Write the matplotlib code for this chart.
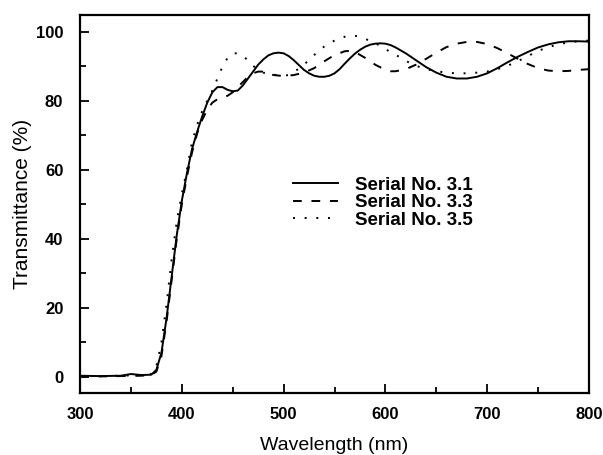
import matplotlib.pyplot as plt
from matplotlib.ticker import MultipleLocator

plt.rcParams["font.family"] = ["Liberation Sans", "DejaVu Sans"]

wavelength_31 = [300, 320, 340, 350, 360, 370, 375, 380, 385, 390, 395, 400, 405, 410,
                 415, 420, 425, 430, 435, 440, 445, 450, 455, 460, 465, 470, 475, 480,
                 485, 490, 495, 500, 505, 510, 515, 520, 525, 530, 535, 540, 545, 550,
                 555, 560, 565, 570, 575, 580, 585, 590, 595, 600, 605, 610, 620, 630,
                 640, 650, 660, 670, 680, 690, 700, 710, 720, 730, 740, 750, 760, 770,
                 780, 790, 800]
trans_31 = [0.3, 0.2, 0.3, 0.8, 0.5, 0.6, 2, 7, 17, 29, 41, 51, 59, 66,
            71, 75.5, 79.5, 82.5, 84, 84, 83.2, 82.8, 83, 84.5, 86.5, 88.5, 90.5, 92,
            93.2, 93.8, 94, 93.8, 93, 91.8, 90.4, 89, 88, 87.3, 87, 87, 87.3, 88,
            89.2, 90.8, 92.3, 93.7, 94.8, 95.7, 96.3, 96.6, 96.7, 96.6, 96.2, 95.5, 93.8, 91.8,
            89.8, 88.2, 87, 86.5, 86.5, 87, 88, 89.5, 91.2, 92.8, 94.2, 95.5, 96.4, 97,
            97.3, 97.3, 97.2]

wavelength_33 = [300, 320, 340, 360, 370, 375, 380, 385, 390, 395, 400, 405, 410, 415,
                 420, 425, 430, 435, 440, 445, 450, 455, 460, 465, 470, 475, 480, 485,
                 490, 500, 510, 520, 530, 540, 550, 560, 565, 570, 580, 590, 600, 605,
                 610, 620, 630, 640, 650, 660, 670, 680, 690, 700, 710, 720, 730, 740,
                 750, 760, 770, 780, 790, 800]
trans_33 = [0.1, 0.1, 0.2, 0.3, 0.5, 1.5, 6, 16, 28, 40, 50, 58, 65, 70.5,
            74.5, 77.5, 79.5, 80.5, 81, 81.5, 82.5, 84, 85.5, 87, 88, 88.5, 88.5, 88,
            87.5, 87.2, 87.5, 88.2, 89.5, 91.5, 93.3, 94.4, 94.5, 94.2, 92.5, 90.5, 89, 88.6,
            88.6, 89.2, 90.5, 92.2, 94, 95.6, 96.6, 97.1, 97.1, 96.5, 95.3, 93.8, 92.2, 90.7,
            89.5, 88.8, 88.6, 88.7, 89, 89.2]

wavelength_35 = [300, 320, 340, 360, 370, 375, 380, 385, 390, 395, 400, 405, 410, 415,
                 420, 425, 430, 435, 440, 445, 450, 455, 460, 465, 470, 475, 480, 490,
                 500, 505, 510, 520, 530, 540, 550, 560, 565, 570, 575, 580, 590, 600,
                 610, 620, 630, 640, 650, 660, 670, 680, 690, 700, 710, 720, 730, 740,
                 750, 760, 770, 780, 790, 800]
trans_35 = [0.2, 0.2, 0.3, 0.5, 0.8, 3, 10, 21, 34, 45, 53, 60, 68, 73,
            77, 80, 83, 86.5, 90, 92.5, 93.8, 93.8, 93, 91.8, 90.2, 89, 88.2, 87.6,
            87.3, 87.5, 88.3, 90.5, 93.3, 95.8, 97.5, 98.6, 98.9, 98.9, 98.6, 98, 96.8, 95,
            93.4, 91.6, 90.2, 89.2, 88.6, 88.2, 88, 88, 88.2, 88.5, 89.2, 90.2, 91.5, 93,
            94.5, 95.6, 96.4, 97, 97.3, 97.5]

series_labels = ["Serial No. 3.1", "Serial No. 3.3", "Serial No. 3.5"]

fig = plt.figure(figsize=(6.03, 4.55), dpi=100)
ax = fig.add_axes([0.1327, 0.1363, 0.8441, 0.8314])

ax.plot(wavelength_31, trans_31, color="black", lw=1.4, ls="-", label=series_labels[0])
ax.plot(wavelength_33, trans_33, color="black", lw=1.4, ls=(0, (4.5, 5)), label=series_labels[1])
ax.plot(wavelength_35, trans_35, color="black", lw=1.4, ls=(0, (1, 5)), label=series_labels[2])

ax.set_xlim(300, 800)
ax.set_ylim(-4.7, 105)
ax.xaxis.set_major_locator(MultipleLocator(100))
ax.xaxis.set_minor_locator(MultipleLocator(50))
ax.yaxis.set_major_locator(MultipleLocator(20))
ax.yaxis.set_minor_locator(MultipleLocator(10))
ax.tick_params(which="both", direction="in", width=1.3, labelsize=12)
ax.tick_params(which="major", length=6.5)
ax.tick_params(which="minor", length=4.2)
ax.tick_params(axis="x", which="major", pad=10)
ax.tick_params(axis="y", which="major", pad=12)
for lab in ax.get_xticklabels() + ax.get_yticklabels():
    lab.set_fontweight("bold")
for sp in ax.spines.values():
    sp.set_linewidth(1.6)

ax.set_xlabel("Wavelength (nm)", fontsize=14, labelpad=11)
ax.set_ylabel("Transmittance (%)", fontsize=15, labelpad=3)

ax.legend(loc="upper left", bbox_to_anchor=(0.418, 0.572), frameon=False,
          borderpad=0, borderaxespad=0,
          prop={"weight": "bold", "size": 13.5}, handlelength=2.4,
          handletextpad=0.9, labelspacing=0.02)

fig.savefig("out.png", dpi=100)
